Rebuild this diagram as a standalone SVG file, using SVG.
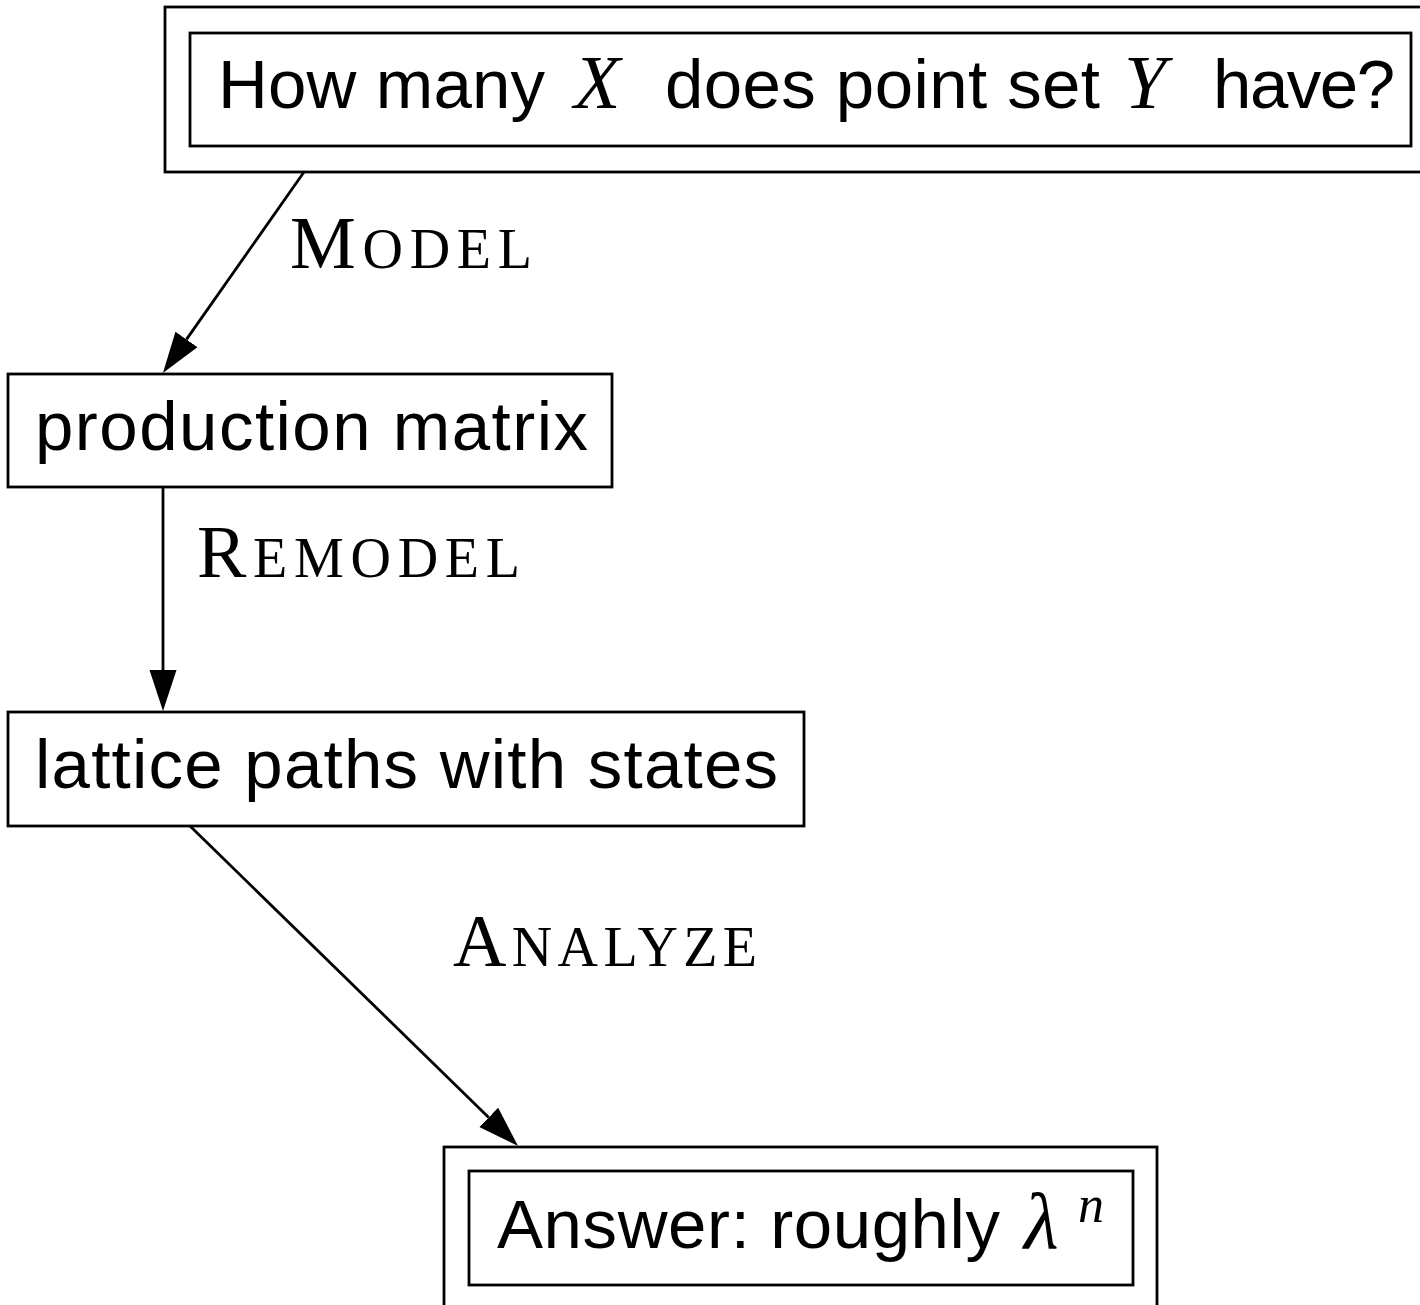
<svg xmlns="http://www.w3.org/2000/svg" width="1420" height="1305" viewBox="0 0 1420 1305">
<style>
.box{fill:none;stroke:#000;stroke-width:2.8}
.edge{fill:none;stroke:#000;stroke-width:2.8}
.t{font-family:"Liberation Sans",Arial,sans-serif;font-size:69px;fill:#000}
.m{font-family:"Liberation Serif","Times New Roman",serif;font-style:italic;font-size:76px;fill:#000}
.sc{font-family:"Liberation Serif","Times New Roman",serif;fill:#000;font-size:74px}
.sc tspan.s{font-size:56px}
</style>
<defs>
<marker id="ah" markerUnits="userSpaceOnUse" markerWidth="42" markerHeight="28" refX="0" refY="13.5" orient="auto">
<path d="M0,0 L41,13.5 L0,27 z" fill="#000"/>
</marker>
</defs>
<rect width="1420" height="1305" fill="#fff"/>
<g id="question">
<rect class="box" x="165" y="7" width="1270" height="165"/>
<rect class="box" x="190" y="33" width="1221" height="113"/>
<text class="t" x="218" y="108" textLength="327" lengthAdjust="spacing">How many</text>
<text class="m" x="574" y="108">X</text>
<text class="t" x="665" y="108" textLength="435" lengthAdjust="spacing">does point set</text>
<text class="m" x="1124" y="108">Y</text>
<text class="t" x="1213" y="108" textLength="182" lengthAdjust="spacing">have?</text>
</g>
<g id="production">
<rect class="box" x="8" y="374" width="604" height="113"/>
<text class="t" x="35" y="450" textLength="553" lengthAdjust="spacing">production matrix</text>
</g>
<g id="lattice">
<rect class="box" x="8" y="712" width="796" height="114"/>
<text class="t" x="35" y="788" textLength="743" lengthAdjust="spacing">lattice paths with states</text>
</g>
<g id="answer">
<rect class="box" x="444" y="1147" width="713" height="170"/>
<rect class="box" x="469" y="1171" width="664" height="114"/>
<text class="t" x="497" y="1248" textLength="503" lengthAdjust="spacing">Answer: roughly</text>
<text class="m" x="1024" y="1248" style="font-size:80px">λ</text>
<text class="m" x="1078" y="1222" style="font-size:52px">n</text>
</g>
<g id="connectors">
<line class="edge" x1="304" y1="172" x2="186.5" y2="339.4" marker-end="url(#ah)"/>
<line class="edge" x1="163" y1="487" x2="163" y2="670" marker-end="url(#ah)"/>
<line class="edge" x1="190" y1="826" x2="488.7" y2="1117.4" marker-end="url(#ah)"/>
<text class="sc" x="290" y="268" textLength="242" lengthAdjust="spacing">M<tspan class="s">ODEL</tspan></text>
<text class="sc" x="197" y="577" textLength="323" lengthAdjust="spacing">R<tspan class="s">EMODEL</tspan></text>
<text class="sc" x="453" y="966" textLength="304" lengthAdjust="spacing">A<tspan class="s">NALYZE</tspan></text>
</g>
</svg>
